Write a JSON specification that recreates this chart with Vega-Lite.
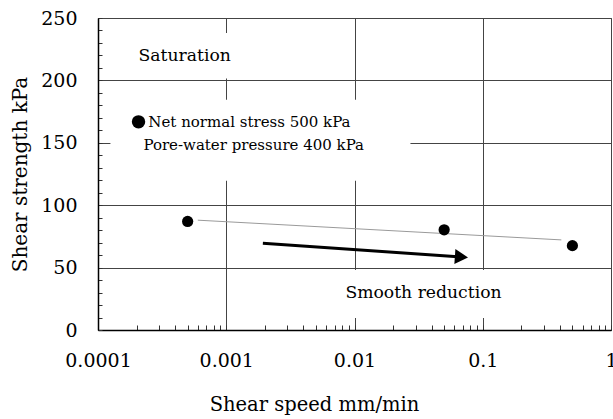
{
  "$schema": "https://vega.github.io/schema/vega-lite/v6.json",
  "width": 513,
  "height": 312,
  "autosize": "none",
  "padding": {"left": 98, "top": 18, "right": 2, "bottom": 89},
  "background": "white",
  "config": {
    "view": {"stroke": "#555", "strokeWidth": 1},
    "font": "DejaVu Serif"
  },
  "datasets": {
    "points": [
      {"speed": 0.0005, "strength": 87},
      {"speed": 0.05, "strength": 80.3},
      {"speed": 0.5, "strength": 67.6}
    ],
    "trend": [
      {"speed": 0.0006, "strength": 88},
      {"speed": 0.41, "strength": 72.2}
    ],
    "arrow": [
      {"speed": 0.00193, "strength": 69.5},
      {"speed": 0.0682, "strength": 58.5}
    ],
    "head": [
      {"speed": 0.0682, "strength": 58.5}
    ],
    "legenddot": [
      {"speed": 0.000207, "strength": 166.8}
    ],
    "boxes": [
      {"speed": 0.000177, "speed2": 0.00116, "strength": 201.5, "strength2": 238},
      {"speed": 0.000125, "speed2": 0.0273, "strength": 119.5, "strength2": 184.5},
      {"speed": 0.00764, "speed2": 0.1475, "strength": 9.6, "strength2": 48.1}
    ],
    "bigtext": [
      {"speed": 0.000207, "strength": 219.5, "label": "Saturation"},
      {"speed": 0.0085, "strength": 29.4, "label": "Smooth reduction"}
    ],
    "legendtext": [
      {"speed": 0.000247, "strength": 166.8, "label": "Net normal stress 500 kPa"},
      {"speed": 0.000226, "strength": 148.6, "label": "Pore-water pressure 400 kPa"}
    ]
  },
  "encoding": {
    "x": {
      "field": "speed",
      "type": "quantitative",
      "scale": {"type": "log", "domain": [0.0001, 1], "nice": false},
      "axis": {
        "title": "Shear speed mm/min",
        "values": [0.0001, 0.0002, 0.0003, 0.0004, 0.0005, 0.0006, 0.0007, 0.0008, 0.0009,
                   0.001, 0.002, 0.003, 0.004, 0.005, 0.006, 0.007, 0.008, 0.009,
                   0.01, 0.02, 0.03, 0.04, 0.05, 0.06, 0.07, 0.08, 0.09,
                   0.1, 0.2, 0.3, 0.4, 0.5, 0.6, 0.7, 0.8, 0.9, 1],
        "labelExpr": "abs(log(datum.value)/LN10 - round(log(datum.value)/LN10)) < 0.000001 ? toString(datum.value) : ''",
        "grid": true,
        "gridColor": "#444",
        "gridWidth": 1,
        "gridOpacity": {"condition": {"test": "abs(log(datum.value)/LN10 - round(log(datum.value)/LN10)) < 0.000001", "value": 1}, "value": 0},
        "tickSize": -5,
        "tickColor": "#333",
        "tickWidth": 1,
        "domainColor": "black",
        "domainWidth": 1.5,
        "labelFont": "DejaVu Serif",
        "labelFontSize": 19,
        "labelColor": "black",
        "labelPadding": 35,
        "labelBaseline": "middle",
        "labelFlush": false,
        "labelOverlap": false,
        "labelBound": false,
        "titleFont": "DejaVu Serif",
        "titleFontSize": 19.5,
        "titleFontWeight": "normal",
        "titleColor": "black",
        "titleX": 216,
        "titleY": 74,
        "titleAlign": "center",
        "titleBaseline": "middle"
      }
    },
    "y": {
      "field": "strength",
      "type": "quantitative",
      "scale": {"domain": [0, 250], "nice": false},
      "axis": {
        "title": "Shear strength kPa",
        "values": [0, 10, 20, 30, 40, 50, 60, 70, 80, 90, 100, 110, 120, 130, 140, 150, 160, 170, 180, 190, 200, 210, 220, 230, 240, 250],
        "labelExpr": "datum.value % 50 === 0 ? datum.label : ''",
        "grid": true,
        "gridColor": "#444",
        "gridWidth": 1,
        "gridOpacity": {"condition": {"test": "datum.value % 50 === 0", "value": 1}, "value": 0},
        "tickSize": -4,
        "tickColor": "#333",
        "tickWidth": 1,
        "domainColor": "black",
        "domainWidth": 1.5,
        "labelFont": "DejaVu Serif",
        "labelFontSize": 19,
        "labelColor": "black",
        "labelPadding": 25,
        "labelOverlap": false,
        "labelBound": false,
        "titleFont": "DejaVu Serif",
        "titleFontSize": 20,
        "titleFontWeight": "normal",
        "titleColor": "black",
        "titleX": -78,
        "titleY": 156,
        "titleAngle": -90,
        "titleAlign": "center",
        "titleBaseline": "middle"
      }
    }
  },
  "layer": [
    {
      "data": {"name": "boxes"},
      "mark": {"type": "rect", "fill": "white", "stroke": null},
      "encoding": {
        "x2": {"field": "speed2"},
        "y2": {"field": "strength2"}
      }
    },
    {
      "data": {"name": "trend"},
      "mark": {"type": "line", "color": "#9a9a9a", "strokeWidth": 1},
      "encoding": {}
    },
    {
      "data": {"name": "arrow"},
      "mark": {"type": "line", "color": "black", "strokeWidth": 3},
      "encoding": {}
    },
    {
      "data": {"name": "head"},
      "mark": {"type": "point", "shape": "triangle-right", "filled": true, "color": "black", "opacity": 1, "size": 230, "angle": 4},
      "encoding": {}
    },
    {
      "data": {"name": "points"},
      "mark": {"type": "point", "shape": "circle", "filled": true, "color": "black", "opacity": 1, "size": 126},
      "encoding": {}
    },
    {
      "data": {"name": "legenddot"},
      "mark": {"type": "point", "shape": "circle", "filled": true, "color": "black", "opacity": 1, "size": 180},
      "encoding": {}
    },
    {
      "data": {"name": "bigtext"},
      "mark": {"type": "text", "align": "left", "baseline": "middle", "fontSize": 17.2, "font": "DejaVu Serif", "color": "black"},
      "encoding": {"text": {"field": "label"}}
    },
    {
      "data": {"name": "legendtext"},
      "mark": {"type": "text", "align": "left", "baseline": "middle", "fontSize": 15, "font": "DejaVu Serif", "color": "black"},
      "encoding": {"text": {"field": "label"}}
    }
  ]
}
